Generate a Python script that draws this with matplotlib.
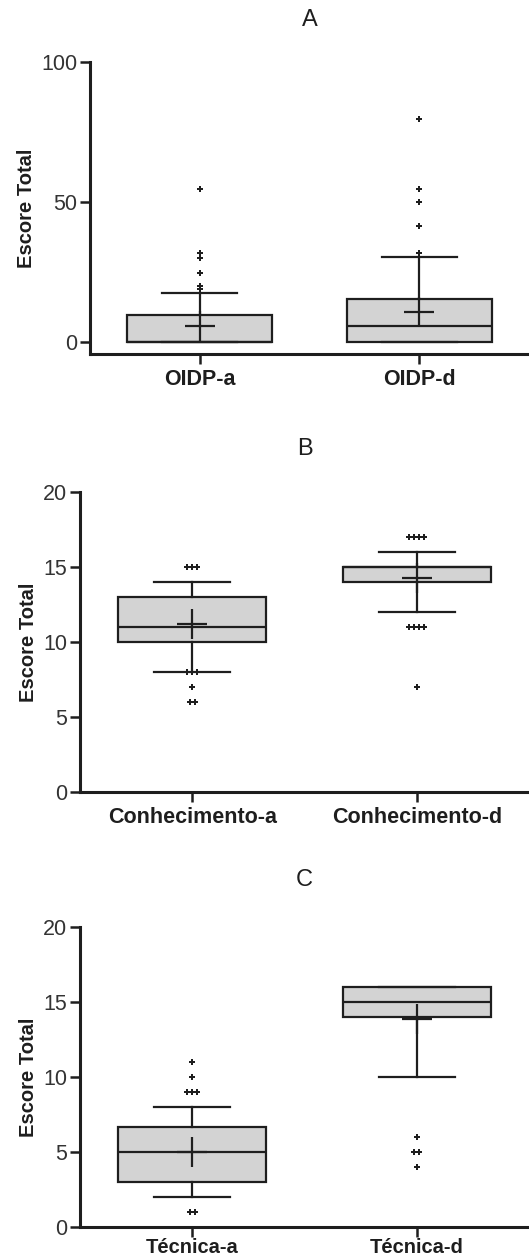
import matplotlib
matplotlib.use("Agg")
import matplotlib.pyplot as plt
import numpy as np

plt.rcParams["font.family"] = ["Liberation Sans", "DejaVu Sans"]

# ----------------------------
# DATA
# ----------------------------
titles = ["A", "B", "C"]
groups = [["OIDP-a", "OIDP-d"],
          ["Conhecimento-a", "Conhecimento-d"],
          ["Técnica-a", "Técnica-d"]]

q1 = [[0, 0], [10, 14], [3, 14]]
med = [[0, 5.6], [11, 15], [5, 15]]
q3 = [[9.7, 15.4], [13, 15], [6.7, 16]]
mean = [[5.6, 10.7], [11.2, 14.3], [5, 13.9]]
whislo = [[0, 0], [8, 12], [2, 10]]
whishi = [[17.5, 30.5], [14, 16], [8, 16]]

# outliers: (value, how many tied points)
outliers = [
    [[(54.5, 1), (31.9, 1), (29.9, 1), (24.8, 1), (20.1, 1), (18.9, 1)],
     [(79.8, 1), (54.5, 1), (49.9, 1), (41.4, 1), (31.7, 1)]],
    [[(15, 3), (8, 3), (7, 1), (6, 2)],
     [(17, 4), (11, 4), (7, 1)]],
    [[(11, 1), (10, 1), (9, 3), (1, 2)],
     [(6, 1), (5, 2), (4, 1)]],
]

yticks = [[0, 50, 100], [0, 5, 10, 15, 20], [0, 5, 10, 15, 20]]
ylims = [(-4.3, 100), (0, 20), (0, 20)]

# ----------------------------
# LAYOUT (pixels -> figure fractions)
# ----------------------------
W, H = 529, 1256
# left, top, bottom of each axes in pixels
rects_px = [(90, 62, 354), (80, 492, 792), (80, 927, 1227)]
title_y = [20, 449, 880]
xlabel_pad = [4, 4, 1]
xlabel_size = [15.5, 15.5, 14.5]

fig = plt.figure(figsize=(W / 100, H / 100), dpi=100)

dark = "#1e1e1e"
box_face = "#d3d3d3"

for i in range(3):
    left, top, bottom = rects_px[i]
    ax = fig.add_axes([left / W, 1 - bottom / H, (W - left) / W, (bottom - top) / H])

    stats = []
    for j in range(2):
        stats.append(dict(med=med[i][j], q1=q1[i][j], q3=q3[i][j],
                          whislo=whislo[i][j], whishi=whishi[i][j],
                          mean=mean[i][j], fliers=[]))

    ax.bxp(stats, positions=[0, 1], widths=0.66, capwidths=0.34,
           showmeans=True, showfliers=False, patch_artist=True,
           boxprops=dict(facecolor=box_face, edgecolor=dark, linewidth=1.6),
           medianprops=dict(color=dark, linewidth=1.6),
           whiskerprops=dict(color=dark, linewidth=1.6),
           capprops=dict(color=dark, linewidth=1.6),
           meanprops=dict(marker="+", markersize=21.6, markeredgewidth=1.6,
                          markeredgecolor=dark, markerfacecolor=dark))

    # outliers, tied points spread sideways
    for j in range(2):
        for val, n in outliers[i][j]:
            offs = (np.arange(n) - (n - 1) / 2) * 0.022
            ax.plot(j + offs, [val] * n, linestyle="none", marker="P",
                    markersize=4.2, color=dark, markeredgewidth=0)

    ax.set_xlim(-0.5, 1.5)
    ax.set_ylim(*ylims[i])
    ax.set_yticks(yticks[i])
    ax.set_xticks([0, 1])
    ax.set_xticklabels(groups[i], fontsize=xlabel_size[i], fontweight="bold", color=dark)
    ax.tick_params(axis="y", labelsize=15.5, labelcolor="#333333", length=7,
                   width=1.8, pad=2, color=dark)
    ax.tick_params(axis="x", length=7, width=1.8, pad=xlabel_pad[i], color=dark)
    ax.set_ylabel("Escore Total", fontsize=14.5, fontweight="bold", color=dark,
                  labelpad=4)

    for s in ["top", "right"]:
        ax.spines[s].set_visible(False)
    for s in ["left", "bottom"]:
        ax.spines[s].set_linewidth(2.2)
        ax.spines[s].set_color(dark)

    fig.text((left + W) / 2 / W, 1 - title_y[i] / H, titles[i], fontsize=17,
             ha="center", va="center", color=dark)

fig.savefig("out.png", dpi=100)
